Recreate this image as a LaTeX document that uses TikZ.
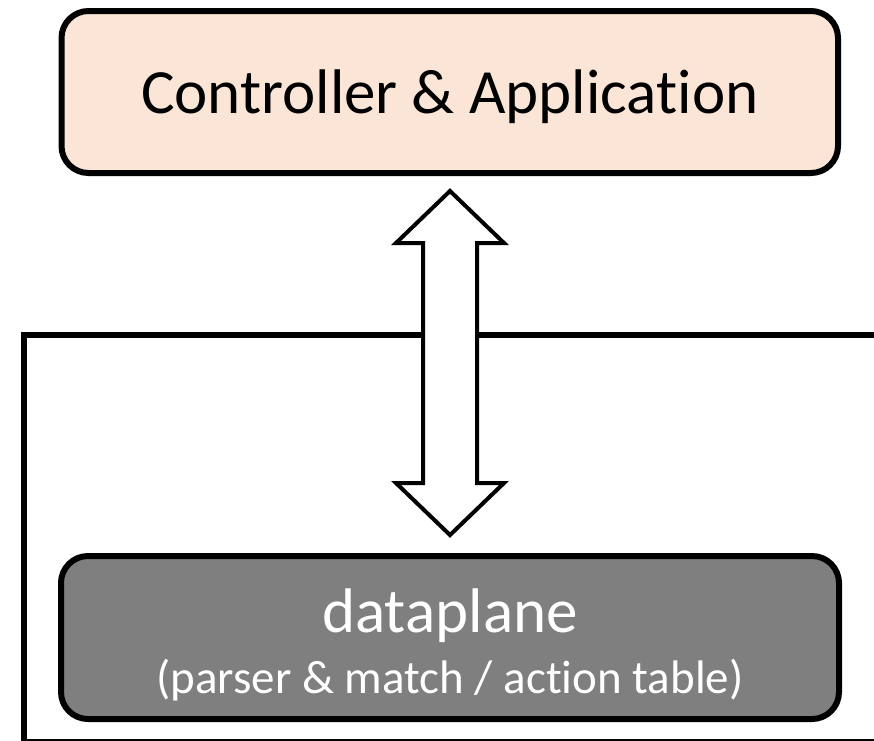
\documentclass[tikz,border=0pt]{standalone}
\usepackage{fontspec}
\setmainfont[Ligatures=NoCommon]{Carlito}
\usetikzlibrary{calc}
\definecolor{ctrlfill}{HTML}{FBE5D6}
\definecolor{dpfill}{HTML}{7F7F7F}
\tikzset{
  roundbox/.style={draw=black, line width=6pt, rounded corners=27pt, inner sep=0pt},
  ctrlbox/.style={roundbox, fill=ctrlfill, minimum width=776.5pt, minimum height=162pt,
    text height=42pt, text depth=0pt, font=\fontsize{63}{70}\selectfont},
  dpbox/.style={roundbox, fill=dpfill, minimum width=778pt, minimum height=163pt},
  dptext/.style={text=white, anchor=base, inner sep=0pt},
  frameline/.style={draw=black, line width=6pt},
  biarrow/.style={draw=black, fill=white, line width=4pt, miter limit=10}
}
\begin{document}
\begin{tikzpicture}[x=1pt, y=-1pt]
  \useasboundingbox (0,0) rectangle (874,740);
  \clip (0,0) rectangle (874,740);

  % device frame around the dataplane, running off the right and bottom edges
  \draw[frameline] (23.5,335.3) rectangle (877.5,741.5);

  % controller on top
  \node[ctrlbox] (ctrl) at (449.75,92) {Controller \& Application};

  % dataplane at the bottom
  \node[dpbox] (dp) at (450,637.5) {};
  \node[dptext, font=\fontsize{63}{70}\selectfont] (dptitle) at (450,632) {dataplane};
  \node[dptext, font=\fontsize{47}{52}\selectfont] (dpsub) at (450,693) {(parser \& match / action table)};

  % two-way block arrow between controller and dataplane
  \coordinate (atop) at ($(ctrl.south)+(0.25,15)$);
  \coordinate (abot) at ($(dp.north)+(0,-18)$);
  \draw[biarrow] (atop) -- ++(54,52) -- ++(-27,0) |- ($(abot)+(27,-52)$)
    -- ++(27,0) -- (abot) -- ++(-54,-52) -- ++(27,0)
    |- ($(atop)+(-54,52)$) -- cycle;
\end{tikzpicture}
\end{document}
